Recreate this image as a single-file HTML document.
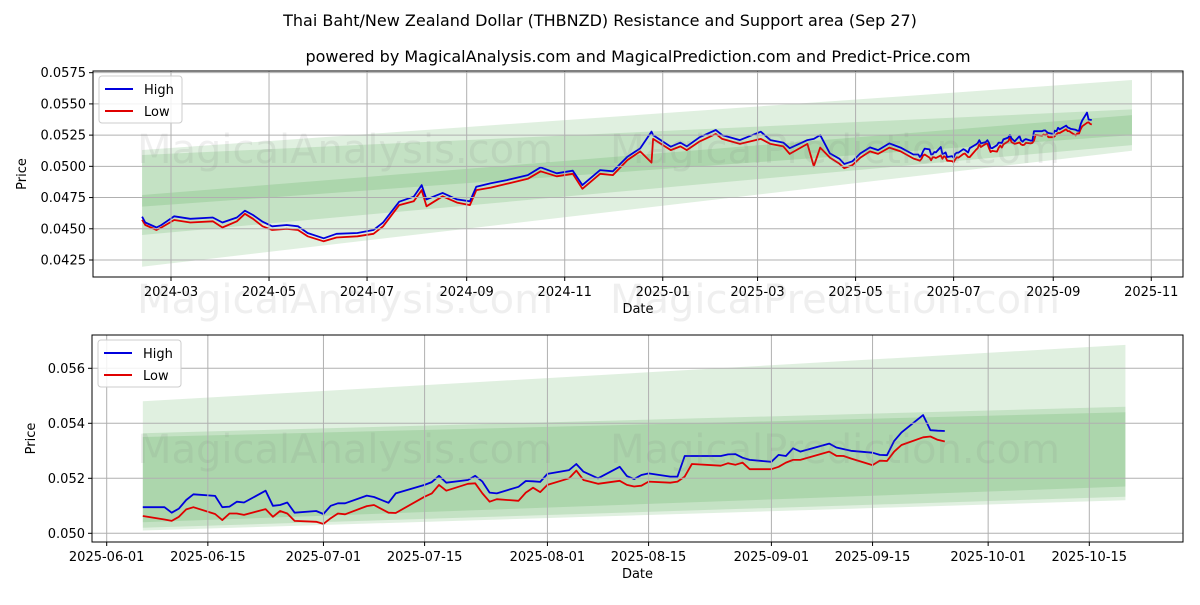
<!DOCTYPE html>
<html><head><meta charset="utf-8"><style>
body{margin:0;background:#fff;font-family:"Liberation Sans","DejaVu Sans",sans-serif;}
svg text{font-family:"DejaVu Sans","Liberation Sans",sans-serif;}
</style></head><body>
<svg id="c" width="1200" height="600" viewBox="0 0 1200 600">
<rect width="1200" height="600" fill="#fff"/>
<text x="600" y="26" text-anchor="middle" font-size="16" fill="#000">Thai Baht/New Zealand Dollar (THBNZD) Resistance and Support area (Sep 27)</text>
<text x="638" y="62" text-anchor="middle" font-size="16" fill="#000">powered by MagicalAnalysis.com and MagicalPrediction.com and Predict-Price.com</text>
</svg>
<script>
const dates=["2024-02-12","2024-02-14","2024-02-21","2024-02-24","2024-03-03","2024-03-13","2024-03-27","2024-04-02","2024-04-11","2024-04-16","2024-04-21","2024-04-27","2024-05-03","2024-05-12","2024-05-19","2024-05-25","2024-06-04","2024-06-12","2024-06-25","2024-07-05","2024-07-11","2024-07-21","2024-07-30","2024-08-04","2024-08-07","2024-08-17","2024-08-26","2024-09-03","2024-09-07","2024-09-16","2024-09-26","2024-10-09","2024-10-17","2024-10-27","2024-11-06","2024-11-12","2024-11-23","2024-12-01","2024-12-10","2024-12-18","2024-12-25","2024-12-26","2025-01-06","2025-01-12","2025-01-16","2025-01-24","2025-02-03","2025-02-07","2025-02-18","2025-03-03","2025-03-09","2025-03-17","2025-03-21","2025-04-01","2025-04-05","2025-04-09","2025-04-15","2025-04-21","2025-04-24","2025-04-29","2025-05-04","2025-05-10","2025-05-15","2025-05-22","2025-05-29",
"2025-06-06","2025-06-09","2025-06-10","2025-06-11","2025-06-12","2025-06-13","2025-06-16","2025-06-17","2025-06-18","2025-06-19","2025-06-20","2025-06-23","2025-06-24","2025-06-25","2025-06-26","2025-06-27","2025-06-30","2025-07-01","2025-07-02","2025-07-03","2025-07-04","2025-07-07","2025-07-08","2025-07-10","2025-07-11","2025-07-15","2025-07-16","2025-07-17","2025-07-18","2025-07-21","2025-07-22","2025-07-23","2025-07-24","2025-07-25","2025-07-28","2025-07-29","2025-07-30","2025-07-31","2025-08-01","2025-08-04","2025-08-05","2025-08-06","2025-08-08","2025-08-11","2025-08-12","2025-08-13","2025-08-14","2025-08-15","2025-08-18","2025-08-19","2025-08-20","2025-08-21","2025-08-25","2025-08-26","2025-08-27","2025-08-28","2025-08-29","2025-09-01","2025-09-02","2025-09-03","2025-09-04","2025-09-05","2025-09-09","2025-09-10","2025-09-11","2025-09-12","2025-09-15","2025-09-16","2025-09-17","2025-09-18","2025-09-19","2025-09-22","2025-09-23","2025-09-24","2025-09-25"];
const high=[0.04597,0.0455,0.0451,0.0453,0.0460,0.0458,0.0459,0.0455,0.0459,0.04645,0.0461,0.04557,0.0452,0.0453,0.0452,0.04466,0.04424,0.0446,0.04466,0.0449,0.0455,0.04717,0.04757,0.0485,0.04735,0.04787,0.04735,0.0472,0.04837,0.04864,0.0489,0.0493,0.04992,0.04944,0.04965,0.0485,0.0497,0.0496,0.05077,0.05144,0.05278,0.0525,0.05157,0.0519,0.0516,0.05233,0.05291,0.0525,0.0521,0.05277,0.0521,0.0519,0.05145,0.0521,0.0522,0.0525,0.05104,0.0506,0.05019,0.0504,0.05104,0.05152,0.0513,0.05184,0.0515,
0.05095,0.05095,0.05075,0.0509,0.05121,0.05142,0.05136,0.05095,0.05097,0.05115,0.05112,0.05155,0.051,0.05103,0.05112,0.05075,0.05081,0.0507,0.051,0.05109,0.05109,0.05137,0.05132,0.05111,0.05145,0.05176,0.05186,0.05209,0.05184,0.05194,0.05209,0.05188,0.05148,0.05145,0.05169,0.0519,0.05189,0.05187,0.05216,0.0523,0.05252,0.05224,0.052,0.05242,0.05208,0.05197,0.05212,0.05218,0.05206,0.05206,0.05281,0.05281,0.05281,0.05287,0.05288,0.05275,0.05267,0.0526,0.05285,0.05281,0.05309,0.05297,0.05326,0.05312,0.05306,0.053,0.05293,0.05285,0.05284,0.05336,0.05367,0.0543,0.05375,0.05373,0.05372];
const low=[0.04572,0.0453,0.0449,0.0451,0.0457,0.0455,0.0456,0.0451,0.0456,0.0462,0.0458,0.0452,0.0449,0.0450,0.0449,0.0444,0.0440,0.0443,0.0444,0.0446,0.0452,0.0469,0.0472,0.0481,0.0468,0.0476,0.0471,0.0469,0.0481,0.0483,0.0486,0.0490,0.0496,0.0492,0.0494,0.0482,0.0494,0.0493,0.0505,0.0512,0.0503,0.0522,0.0513,0.0516,0.0513,0.0520,0.0526,0.0522,0.0518,0.0522,0.0518,0.0516,0.0510,0.0518,0.0500,0.0515,0.0507,0.0502,0.04985,0.0501,0.0507,0.0512,0.0510,0.0515,0.0512,
0.05063,0.0505,0.05045,0.0506,0.05087,0.05095,0.0507,0.05048,0.05072,0.05072,0.05067,0.05088,0.0506,0.05081,0.05072,0.05045,0.05042,0.05034,0.05055,0.05072,0.05069,0.05099,0.05103,0.05075,0.05074,0.05133,0.05145,0.05176,0.05155,0.0518,0.05182,0.05145,0.05115,0.05124,0.05118,0.05148,0.05166,0.0515,0.05176,0.052,0.05228,0.05194,0.0518,0.05191,0.05176,0.0517,0.05173,0.05188,0.05184,0.05188,0.05206,0.05252,0.05246,0.05255,0.05249,0.05257,0.05233,0.05233,0.05242,0.05257,0.05267,0.05267,0.05297,0.05282,0.05281,0.05272,0.05248,0.05264,0.05263,0.05297,0.05321,0.05349,0.05352,0.0534,0.05334];
const topBandDates=["2024-02-12","2025-10-20"];
const topBandUpper=[[0.05131,0.05691],[0.05091,0.05456],[0.0477,0.0541]];
const topBandLower=[[0.04196,0.05125],[0.0445,0.0517],[0.04677,0.0525]];
const botBandDates=["2025-06-06","2025-10-20"];
const botBandUpper=[[0.0548,0.05685],[0.05364,0.0546],[0.0535,0.0544]];
const botBandLower=[[0.0501,0.0512],[0.0502,0.05133],[0.0504,0.0517]];
const topYTicks=[0.0425,0.045,0.0475,0.05,0.0525,0.055,0.0575];
const topXTicks=["2024-03","2024-05","2024-07","2024-09","2024-11","2025-01","2025-03","2025-05","2025-07","2025-09","2025-11"];
const botYTicks=[0.050,0.052,0.054,0.056];
const botXTicks=["2025-06-01","2025-06-15","2025-07-01","2025-07-15","2025-08-01","2025-08-15","2025-09-01","2025-09-15","2025-10-01","2025-10-15"];

const NS="http://www.w3.org/2000/svg";
const svg=document.getElementById('c');
function el(t,a,p){const e=document.createElementNS(NS,t);for(const k in a)e.setAttribute(k,a[k]);(p||svg).appendChild(e);return e;}
function day(s){const p=s.split('-').map(Number);return Date.UTC(p[0],p[1]-1,p[2]||1)/86400000;}

function drawPanel(cfg){
  const g=el('g',{});
  
  
  const X=d=>cfg.x0+(day(d)-day(cfg.ref))*cfg.pxd;
  const Y=v=>cfg.y0-(v-cfg.v0)*cfg.pxv;
  // clip
  const cid='clip'+cfg.name;
  const cp=el('clipPath',{id:cid},g);el('rect',{x:cfg.L,y:cfg.T,width:cfg.R-cfg.L,height:cfg.B-cfg.T},cp);
  const inner=el('g',{'clip-path':'url(#'+cid+')'},g);
  // bands
  for(let i=0;i<cfg.bu.length;i++){
    const xa=X(cfg.bd[0]),xb=X(cfg.bd[1]);
    const p=el('polygon',{points:`${xa},${Y(cfg.bu[i][0])} ${xb},${Y(cfg.bu[i][1])} ${xb},${Y(cfg.bl[i][1])} ${xa},${Y(cfg.bl[i][0])}`,fill:'rgb(0,128,0)','fill-opacity':'0.12'},inner);
    
    
  }
  // watermarks
  for(const w of cfg.wm){
    const t=el('text',{x:w[0],y:w[1],'font-size':'40',fill:'rgba(120,120,120,0.12)','text-anchor':'middle'},svg);
    t.textContent=w[2];
    
    
  }
  // grid
  for(const v of cfg.yt){
    const y=Y(v);
    el('line',{x1:cfg.L,x2:cfg.R,y1:y,y2:y,stroke:'#b0b0b0','stroke-width':'1'},g);
    el('line',{x1:cfg.L-4,x2:cfg.L,y1:y,y2:y,stroke:'#000'},g);
    const t=el('text',{x:cfg.L-7,y:y+4.5,'text-anchor':'end','font-size':'13'},g);t.textContent=v.toFixed(cfg.dec);
    
    
  }
  for(const d of cfg.xt){
    const x=X(d);
    el('line',{x1:x,x2:x,y1:cfg.T,y2:cfg.B,stroke:'#b0b0b0','stroke-width':'1'},g);
    el('line',{x1:x,x2:x,y1:cfg.B,y2:cfg.B+4,stroke:'#000'},g);
    const t=el('text',{x:x,y:cfg.B+19,'text-anchor':'middle','font-size':'13'},g);t.textContent=d;
    
    
  }
  // series
  const idx=dates.map((d,i)=>i).filter(i=>day(dates[i])>=day(cfg.from));
  const mk=(arr,col,nm)=>{const pl=el('polyline',{points:idx.map(i=>X(dates[i]).toFixed(1)+','+Y(arr[i]).toFixed(1)).join(' '),fill:'none',stroke:col,'stroke-width':'1.8','stroke-linejoin':'round'},inner);
    
    };
  mk(low,'#e00000','low-line');mk(high,'#0000dd','high-line');
  el('rect',{x:cfg.L,y:cfg.T,width:cfg.R-cfg.L,height:cfg.B-cfg.T,fill:'none',stroke:'#000','stroke-width':'1'},g);
  // labels
  const xl=el('text',{x:(cfg.L+cfg.R)/2,y:cfg.B+36,'text-anchor':'middle','font-size':'13'},g);xl.textContent='Date';
  
  
  const yl=el('text',{x:0,y:0,'text-anchor':'middle','font-size':'13',transform:`translate(${cfg.plx},${(cfg.T+cfg.B)/2}) rotate(-90)`},g);yl.textContent='Price';
  
  
  // legend
  const lg=el('g',{},g);
  
  
  el('rect',{x:cfg.L+6,y:cfg.T+5,width:83,height:47,rx:3,fill:'#fff','fill-opacity':'0.85',stroke:'#ccc'},lg);
  [['High','#0000dd'],['Low','#e00000']].forEach((e,i)=>{
    const yy=cfg.T+18+i*22;
    el('line',{x1:cfg.L+12,x2:cfg.L+40,y1:yy,y2:yy,stroke:e[1],'stroke-width':'2'},lg);
    const t=el('text',{x:cfg.L+51,y:yy+5,'font-size':'13'},lg);t.textContent=e[0];
    
    
  });
}
drawPanel({name:'top-panel',L:93,R:1183,T:71,B:277,x0:171,ref:'2024-03-01',pxd:1.607,y0:260,v0:0.0425,pxv:12488,
  yt:topYTicks,xt:topXTicks,dec:4,bd:topBandDates,bu:topBandUpper,bl:topBandLower,from:'2024-01-01',plx:26,
  wm:[[345,163,'MagicalAnalysis.com'],[835,163,'MagicalPrediction.com'],[345,313,'MagicalAnalysis.com'],[835,313,'MagicalPrediction.com']]});
drawPanel({name:'bottom-panel',L:92,R:1183,T:335,B:542,x0:106.7,ref:'2025-06-01',pxd:7.225,y0:533.3,v0:0.05,pxv:27500,
  yt:botYTicks,xt:botXTicks,dec:3,bd:botBandDates,bu:botBandUpper,bl:botBandLower,from:'2025-06-06',plx:35,
  wm:[[345,463,'MagicalAnalysis.com'],[835,463,'MagicalPrediction.com']]});
</script>
</body></html>
